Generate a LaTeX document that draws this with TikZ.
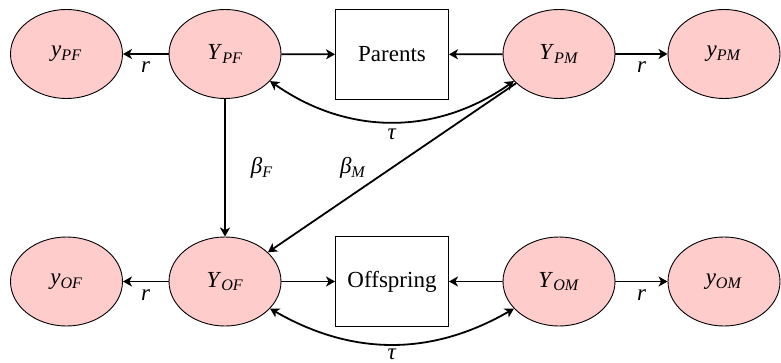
\documentclass[tikz,border=0pt]{standalone}
\usepackage{fontspec}
\setmainfont{Liberation Serif}
\usetikzlibrary{shapes.geometric,arrows.meta}
\begin{document}
\begin{tikzpicture}[x=1pt,y=1pt,
  font=\fontsize{23}{27}\selectfont,
  var/.style={ellipse,draw,line width=0.9pt,fill=red!20,minimum width=112pt,minimum height=89pt,inner sep=0pt},
  obs/.style={rectangle,draw,line width=0.9pt,minimum width=113pt,minimum height=90pt,inner sep=0pt},
  tip/.tip={Stealth[length=9pt,width=10pt,inset=2.5pt]},
  conn/.style={line width=1.8pt,-tip},
  dconn/.style={line width=1.8pt,tip-tip},
  lab/.style={inner sep=7pt},
  tlab/.style={inner sep=6pt}]
\useasboundingbox (0,0) rectangle (781,362);
% top row
\node[var] (ypf) at (66.5,308) {\textit{y}\textsubscript{\textit{PF}}};
\node[var] (Ypf) at (225,308) {\textit{Y}\textsubscript{\textit{PF}}};
\node[obs] (par) at (392,307.5) {Parents};
\node[var] (Ypm) at (559,308) {\textit{Y}\textsubscript{\textit{PM}}};
\node[var] (ypm) at (724,308) {\textit{y}\textsubscript{\textit{PM}}};
% bottom row
\node[var] (yof) at (66.5,80.5) {\textit{y}\textsubscript{\textit{OF}}};
\node[var] (Yof) at (225,80.5) {\textit{Y}\textsubscript{\textit{OF}}};
\node[obs] (off) at (392,80.5) {Offspring};
\node[var] (Yom) at (559,80.5) {\textit{Y}\textsubscript{\textit{OM}}};
\node[var] (yom) at (724,80.5) {\textit{y}\textsubscript{\textit{OM}}};
% top edges
\draw[conn] (Ypf) -- node[lab,below]{\textit{r}} (ypf);
\draw[conn] (Ypf) -- (par);
\draw[conn] (Ypm) -- (par);
\draw[conn] (Ypm) -- node[lab,below]{\textit{r}} (ypm);
\draw[dconn] (Ypf.-31) to[bend right=35] node[tlab,below]{\textit{τ}} (Ypm.211);
% cross edges
\draw[conn] (Ypf) -- node[lab,right=18pt]{\textit{β}\textsubscript{\textit{F}}} (Yof);
\draw[conn] (Ypm) -- node[lab,left=18pt]{\textit{β}\textsubscript{\textit{M}}} (Yof);
% bottom edges
\draw[conn] (Yof) -- node[lab,below]{\textit{r}} (yof);
\draw[conn] (Yof) -- (off);
\draw[conn] (Yom) -- (off);
\draw[conn] (Yom) -- node[lab,below]{\textit{r}} (yom);
\draw[dconn] (Yof.-31) to[bend right=30] node[anchor=base,inner sep=0pt,yshift=-15.5pt]{\textit{τ}} (Yom.211);
\end{tikzpicture}
\end{document}
